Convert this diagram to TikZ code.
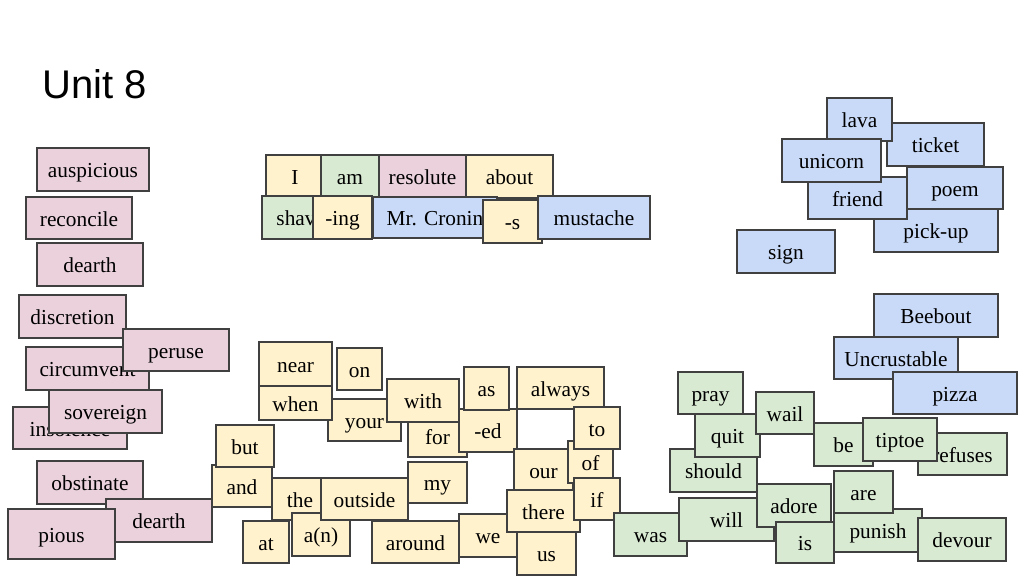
\documentclass[tikz,border=0pt]{standalone}
\usepackage{fontspec}
\setmainfont{Liberation Serif}
\newfontfamily\headfont{Liberation Sans}
\usepackage{tikz}
\usetikzlibrary{positioning}

\definecolor{pinkw}{HTML}{EAD1DC}
\definecolor{yelw}{HTML}{FFF2CC}
\definecolor{greenw}{HTML}{D9EAD3}
\definecolor{bluew}{HTML}{C9DAF8}
\definecolor{edge}{HTML}{404040}

\tikzset{
  tile/.style={draw=edge, line width=0.8pt, inner sep=0pt, text height=13pt, text depth=1pt,
    font=\fontsize{16}{16}\selectfont},
  pink/.style={tile, fill=pinkw},
  yel/.style={tile, fill=yelw},
  green/.style={tile, fill=greenw},
  blue/.style={tile, fill=bluew}
}

% name, style, left, top, right, bottom, word
\newcommand{\tile}[7]{\node[#2, minimum width={(#5-#3)*0.75pt}, minimum height={(#6-#4)*0.75pt}] (#1) at ({(#3+#5)/2},{(#4+#6)/2}) {#7};}

\begin{document}
\begin{tikzpicture}[x=0.75pt,y=-0.75pt]
\useasboundingbox (0,0) rectangle (1027,578);

\node[anchor=base west, inner sep=0pt, font=\headfont\fontsize{30}{30}\selectfont] (title) at (42,98) {Unit 8};

\tile{w-auspicious}{pink}{37}{148}{149}{191}{auspicious}
\tile{w-reconcile}{pink}{26}{197}{132}{239}{reconcile}
\tile{w-dearth}{pink}{37}{243}{143}{286}{dearth}
\tile{w-discretion}{pink}{19}{295}{126}{338}{discretion}
\tile{w-circumvent}{pink}{26}{347}{149}{390}{circumvent}
\tile{w-peruse}{pink}{123}{329}{229}{371}{peruse}
\tile{w-insolence}{pink}{13}{407}{127}{449}{insolence}
\tile{w-sovereign}{pink}{49}{390}{162}{433}{sovereign}
\tile{w-obstinate}{pink}{37}{461}{143}{504}{obstinate}
\tile{w-dearth2}{pink}{106}{499}{212}{542}{dearth}
\tile{w-pious}{pink}{8}{509}{115}{559}{pious}

\tile{w-I}{yel}{266}{155}{324}{197}{I}
\tile{w-am}{green}{321}{155}{379}{198}{am}
\tile{w-resolute}{pink}{379}{155}{466}{197}{resolute}
\tile{w-about}{yel}{466}{155}{553}{198}{about}
\tile{w-shav}{green}{262}{196}{330}{239}{shav}
\tile{w-ing}{yel}{313}{196}{372}{239}{-ing}
\tile{w-cronin}{blue}{373}{197}{497}{238}{Mr. Cronin}
\tile{w-s}{yel}{483}{200}{542}{243}{-s}
\tile{w-mustache}{blue}{538}{196}{650}{239}{mustache}

\tile{w-your}{yel}{328}{399}{401}{441}{your}
\tile{w-near}{yel}{259}{342}{332}{386}{near}
\tile{w-when}{yel}{259}{386}{332}{420}{when}
\tile{w-on}{yel}{337}{348}{382}{390}{on}
\tile{w-for}{yel}{408}{415}{467}{457}{for}
\tile{w-with}{yel}{387}{379}{459}{422}{with}
\tile{w-ed}{yel}{459}{409}{517}{452}{-ed}
\tile{w-as}{yel}{464}{367}{509}{410}{as}
\tile{w-always}{yel}{517}{367}{604}{409}{always}
\tile{w-our}{yel}{514}{449}{573}{492}{our}
\tile{w-of}{yel}{568}{441}{613}{483}{of}
\tile{w-to}{yel}{574}{407}{620}{449}{to}
\tile{w-we}{yel}{459}{514}{517}{557}{we}
\tile{w-us}{yel}{517}{532}{576}{575}{us}
\tile{w-there}{yel}{507}{490}{580}{532}{there}
\tile{w-if}{yel}{574}{478}{620}{520}{if}

\tile{w-and}{yel}{212}{465}{272}{507}{and}
\tile{w-but}{yel}{216}{425}{274}{467}{but}
\tile{w-the}{yel}{272}{478}{328}{520}{the}
\tile{w-an}{yel}{292}{513}{350}{556}{a(n)}
\tile{w-outside}{yel}{321}{478}{408}{520}{outside}
\tile{w-my}{yel}{408}{462}{467}{503}{my}
\tile{w-at}{yel}{243}{521}{289}{563}{at}
\tile{w-around}{yel}{372}{521}{459}{563}{around}

\tile{w-was}{green}{614}{513}{687}{556}{was}
\tile{w-will}{green}{679}{498}{774}{541}{will}
\tile{w-should}{green}{670}{449}{757}{492}{should}
\tile{w-pray}{green}{678}{372}{743}{414}{pray}
\tile{w-quit}{green}{695}{414}{760}{457}{quit}
\tile{w-wail}{green}{756}{392}{814}{434}{wail}
\tile{w-adore}{green}{757}{484}{831}{527}{adore}
\tile{w-is}{green}{776}{522}{834}{563}{is}
\tile{w-be}{green}{814}{423}{873}{466}{be}
\tile{w-refuses}{green}{918}{433}{1007}{475}{refuses}
\tile{w-tiptoe}{green}{863}{418}{937}{461}{tiptoe}
\tile{w-punish}{green}{834}{509}{922}{552}{punish}
\tile{w-are}{green}{834}{471}{893}{513}{are}
\tile{w-devour}{green}{918}{518}{1006}{561}{devour}

\tile{w-ticket}{blue}{887}{123}{984}{166}{ticket}
\tile{w-lava}{blue}{827}{98}{892}{141}{lava}
\tile{w-pickup}{blue}{874}{209}{998}{252}{pick-up}
\tile{w-friend}{blue}{808}{177}{907}{219}{friend}
\tile{w-unicorn}{blue}{782}{139}{881}{182}{unicorn}
\tile{w-poem}{blue}{907}{167}{1003}{209}{poem}
\tile{w-sign}{blue}{737}{230}{835}{273}{sign}
\tile{w-beebout}{blue}{874}{294}{998}{337}{Beebout}
\tile{w-uncrust}{blue}{834}{337}{958}{379}{Uncrustable}
\tile{w-pizza}{blue}{893}{372}{1017}{414}{pizza}

\end{tikzpicture}
\end{document}
